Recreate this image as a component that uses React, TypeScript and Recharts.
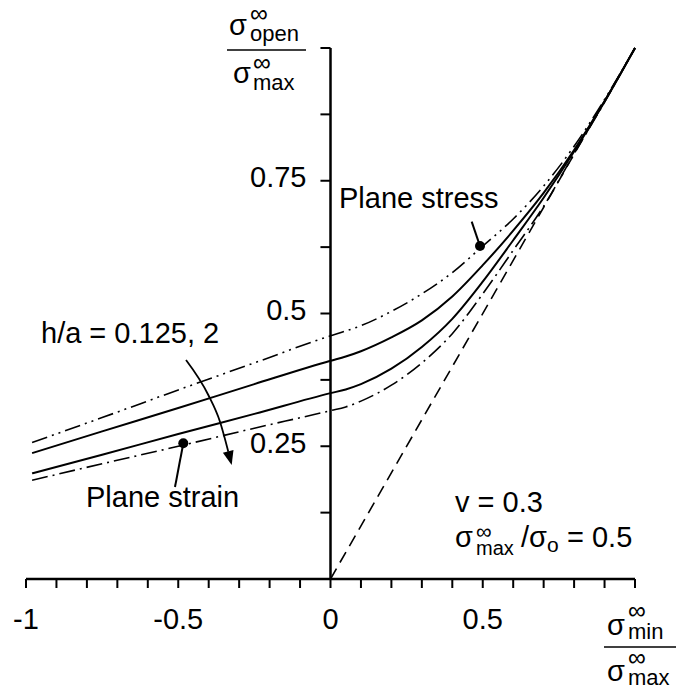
import { LineChart, Line, XAxis, YAxis, ReferenceLine, ReferenceDot } from 'recharts';

// sigma_min / sigma_max sample points
const xs = [-0.98, -0.75, -0.5, -0.25, 0, 0.05, 0.1, 0.2, 0.3, 0.4, 0.5, 0.6, 0.7, 0.8, 0.9, 1];

// sigma_open / sigma_max
const planeStress = [0.257, 0.304, 0.356, 0.407, 0.458, 0.467, 0.477, 0.504, 0.537, 0.577, 0.627, 0.678, 0.74, 0.815, 0.903, 1];
const solidUpper = [0.237, 0.278, 0.322, 0.367, 0.411, 0.419, 0.429, 0.455, 0.487, 0.532, 0.591, 0.656, 0.727, 0.808, 0.9, 1];
const solidLower = [0.199, 0.234, 0.273, 0.311, 0.35, 0.357, 0.367, 0.396, 0.437, 0.49, 0.56, 0.638, 0.718, 0.805, 0.899, 1];
const planeStrain = [0.186, 0.217, 0.25, 0.284, 0.317, 0.324, 0.335, 0.365, 0.407, 0.462, 0.537, 0.619, 0.702, 0.801, 0.898, 1];

// closure-free reference line
const diagX = [0, 1];
const diagY = [0, 1];

// curved arrow across the h/a curves
const arrowX = [-0.4745, -0.4013, -0.3629, -0.3356];
const arrowY = [0.4124, 0.3465, 0.2962, 0.2397];
const arrowTip = { x: -0.3245, y: 0.2147 };

const stressMark = { x: 0.491, y: 0.627 };
const stressLeaderEnd = { x: 0.4637, y: 0.673 };
const strainMark = { x: -0.4834, y: 0.2556 };
const strainLeaderEnd = { x: -0.5107, y: 0.1733 };

const xTicks = [-1, -0.9, -0.8, -0.7, -0.6, -0.5, -0.4, -0.3, -0.2, -0.1, 0, 0.1, 0.2, 0.3, 0.4, 0.5, 0.6, 0.7, 0.8, 0.9, 1];
const xLabels = [-1, -0.5, 0, 0.5];
const yTicks = [0, 0.125, 0.25, 0.375, 0.5, 0.625, 0.75, 0.875, 1];
const yLabels = [0.25, 0.5, 0.75];
const yTickLen = 0.033; // in x units, about 10px

const W = 678;
const H = 690;
const LEFT = 26;
const PLOT_W = 609;
const TOP = 48;
const PLOT_BOTTOM = 579;
const FONT = '"Liberation Sans", Arial, sans-serif';

const zip = (a: number[], b: number[]) => a.map((x, i) => ({ x, y: b[i] }));

function XTick(props: any) {
  const { x, payload } = props;
  if (!xLabels.includes(payload.value)) return null;
  return (
    <text x={x} y={PLOT_BOTTOM + 50} textAnchor="middle" fontSize={29} fontFamily={FONT} fill="#000">
      {payload.value}
    </text>
  );
}

function ArrowHead(props: any) {
  const { cx, cy } = props;
  return <polygon points={`${cx},${cy} ${cx - 8.8},${cy - 12.2} ${cx + 1.8},${cy - 15}`} fill="#000" />;
}

const Nothing = () => <g />;

export default function App() {
  return (
    <div style={{ position: 'absolute', left: 0, top: 0, width: W, height: H }}>
      <LineChart
        width={W}
        height={H}
        margin={{ top: TOP, right: W - LEFT - PLOT_W, bottom: H - PLOT_BOTTOM - 60, left: LEFT }}
      >
        <XAxis
          type="number"
          dataKey="x"
          domain={[-1, 1]}
          ticks={xTicks}
          interval={0}
          height={60}
          tickSize={9}
          axisLine={{ stroke: '#000', strokeWidth: 2.5 }}
          tickLine={{ stroke: '#000', strokeWidth: 2 }}
          tick={<XTick />}
        />
        <YAxis type="number" domain={[0, 1]} hide />

        {/* y axis drawn at x = 0 */}
        <ReferenceLine x={0} stroke="#000" strokeWidth={2.5} />
        {yTicks.map((v) => (
          <ReferenceLine
            key={'t' + v}
            segment={[{ x: -yTickLen, y: v }, { x: 0, y: v }]}
            stroke="#000"
            strokeWidth={2}
          />
        ))}
        {yLabels.map((v) => (
          <ReferenceDot
            key={'l' + v}
            x={0}
            y={v}
            r={1}
            shape={<Nothing />}
            label={{ value: String(v), position: 'left', offset: 23, fontSize: 29, fill: '#000', fontFamily: FONT, dy: -4 }}
          />
        ))}

        <Line data={zip(diagX, diagY)} dataKey="y" type="linear" stroke="#000" strokeWidth={1.6} strokeDasharray="12 7" dot={false} isAnimationActive={false} />
        <Line data={zip(xs, planeStress)} dataKey="y" type="monotone" stroke="#000" strokeWidth={1.6} strokeDasharray="16 5 2 5 2 5" dot={false} isAnimationActive={false} />
        <Line data={zip(xs, solidUpper)} dataKey="y" type="monotone" stroke="#000" strokeWidth={2} dot={false} isAnimationActive={false} />
        <Line data={zip(xs, solidLower)} dataKey="y" type="monotone" stroke="#000" strokeWidth={2} dot={false} isAnimationActive={false} />
        <Line data={zip(xs, planeStrain)} dataKey="y" type="monotone" stroke="#000" strokeWidth={1.6} strokeDasharray="16 5 2 5" dot={false} isAnimationActive={false} />
        <Line data={zip(arrowX, arrowY)} dataKey="y" type="monotone" stroke="#000" strokeWidth={1.8} dot={false} isAnimationActive={false} />

        <ReferenceLine segment={[stressMark, stressLeaderEnd]} stroke="#000" strokeWidth={2} />
        <ReferenceLine segment={[strainMark, strainLeaderEnd]} stroke="#000" strokeWidth={2} />
        <ReferenceDot x={stressMark.x} y={stressMark.y} r={5} fill="#000" stroke="none" />
        <ReferenceDot x={strainMark.x} y={strainMark.y} r={5} fill="#000" stroke="none" />
        <ReferenceDot x={arrowTip.x} y={arrowTip.y} r={1} shape={<ArrowHead />} />
      </LineChart>

      <svg width={W} height={H} style={{ position: 'absolute', left: 0, top: 0, pointerEvents: 'none' }} fontFamily={FONT} fill="#000">
        {/* y title */}
        <text x={229} y={35} fontSize={29}>
          σ
          <tspan x={250} y={22} fontSize={25}>∞</tspan>
          <tspan x={250} y={41} fontSize={22}>open</tspan>
        </text>
        <line x1={227} x2={306} y1={50} y2={50} stroke="#000" strokeWidth={1.5} />
        <text x={233} y={83} fontSize={29}>
          σ
          <tspan x={253} y={71} fontSize={25}>∞</tspan>
          <tspan x={253} y={90} fontSize={22}>max</tspan>
        </text>

        {/* x title */}
        <text x={607} y={635} fontSize={29}>
          σ
          <tspan x={628} y={619} fontSize={25}>∞</tspan>
          <tspan x={628} y={639} fontSize={22}>min</tspan>
        </text>
        <line x1={604} x2={676} y1={647} y2={647} stroke="#000" strokeWidth={1.5} />
        <text x={607} y={681} fontSize={29}>
          σ
          <tspan x={628} y={666} fontSize={25}>∞</tspan>
          <tspan x={628} y={685} fontSize={22}>max</tspan>
        </text>

        <text x={339} y={208} fontSize={29}>Plane stress</text>
        <text x={41} y={343} fontSize={29}>h/a = 0.125, 2</text>
        <text x={86} y={507} fontSize={29}>Plane strain</text>

        <text x={455} y={512} fontSize={29}>v = 0.3</text>
        <text x={455} y={547} fontSize={29}>
          σ
          <tspan x={476} y={539} fontSize={22}>∞</tspan>
          <tspan x={476} y={555} fontSize={20}>max</tspan>
          <tspan x={521} y={547} fontSize={29}>/σ</tspan>
          <tspan x={547} y={552} fontSize={21}>o</tspan>
          <tspan x={567} y={547} fontSize={29}>= 0.5</tspan>
        </text>
      </svg>
    </div>
  );
}
